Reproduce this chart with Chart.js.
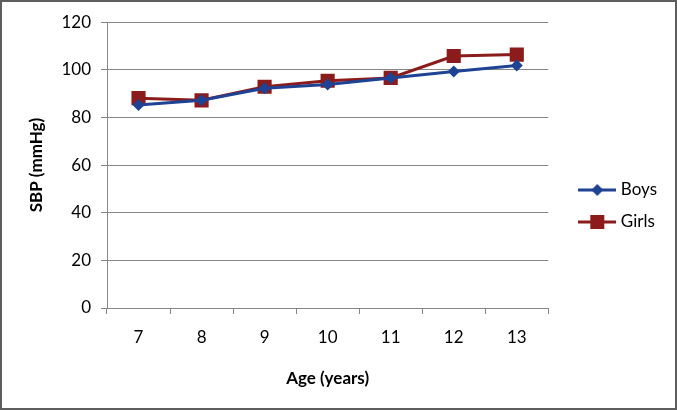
<!DOCTYPE html>
<html>
<head>
<meta charset="utf-8">
<script src="https://cdn.jsdelivr.net/npm/chart.js@4/dist/chart.umd.min.js"></script>
<style>
  html, body { margin: 0; padding: 0; background: #fff; }
  #wrap { width: 677px; height: 410px; box-sizing: border-box; border: 2px solid #5e5e5e; position: relative; }
</style>
</head>
<body>
<div id="wrap"><canvas id="chart"></canvas></div>
<script>
const ages = ['7', '8', '9', '10', '11', '12', '13'];
const boys = [85.2, 87.2, 92.3, 93.8, 96.6, 99.3, 101.8];
const girls = [88.1, 87.2, 92.9, 95.4, 96.6, 105.8, 106.4];
const yTicks = [0, 20, 40, 60, 80, 100, 120];

const BLUE = '#1f4394';
const RED = '#8c1b1b';
const FONT = 'Lato, "Open Sans", sans-serif';

// legend icon: line with the marker on top
function legendIcon(color, marker) {
  const c = document.createElement('canvas');
  c.width = 38; c.height = 16;
  const g = c.getContext('2d');
  g.strokeStyle = color;
  g.lineWidth = 3;
  g.beginPath(); g.moveTo(0, 8); g.lineTo(38, 8); g.stroke();
  g.fillStyle = color;
  if (marker === 'diamond') {
    g.beginPath(); g.moveTo(19, 2); g.lineTo(25, 8); g.lineTo(19, 14); g.lineTo(13, 8); g.closePath(); g.fill();
  } else {
    g.fillRect(12, 1, 14, 14);
  }
  return c;
}

// move the legend block a little, where the original sits
const legendNudge = {
  id: 'legendNudge',
  afterLayout(ch) {
    const lg = ch.legend;
    lg.left += 19; lg.right += 19;
    lg.top -= 9; lg.bottom -= 9;
  }
};

const chart = new Chart(document.getElementById('chart'), {
  type: 'line',
  data: {
    labels: ages,
    datasets: [
      {
        label: 'Boys',
        data: boys,
        borderColor: BLUE,
        backgroundColor: BLUE,
        borderWidth: 3,
        pointStyle: 'rectRot',
        pointRadius: 6,
        pointBackgroundColor: BLUE,
        pointBorderWidth: 0,
        tension: 0
      },
      {
        label: 'Girls',
        data: girls,
        borderColor: RED,
        backgroundColor: RED,
        borderWidth: 3,
        pointStyle: 'rect',
        pointRadius: 10,
        pointBackgroundColor: RED,
        pointBorderWidth: 0,
        tension: 0
      }
    ]
  },
  plugins: [legendNudge],
  options: {
    responsive: true,
    maintainAspectRatio: false,
    animation: false,
    layout: { padding: { top: 20, right: 27, left: 0, bottom: 0 } },
    plugins: {
      tooltip: { enabled: false },
      legend: {
        position: 'right',
        labels: {
          font: { family: FONT, size: 17 },
          color: '#000',
          usePointStyle: true,
          pointStyleWidth: 30,
          padding: 15,
          generateLabels: (ch) => ch.data.datasets.map((ds, i) => ({
            text: ds.label,
            datasetIndex: i,
            pointStyle: legendIcon(ds.borderColor, i === 0 ? 'diamond' : 'square'),
            fontColor: '#000',
            lineWidth: 0
          }))
        }
      }
    },
    scales: {
      x: {
        offset: true,
        grid: { offset: true, drawOnChartArea: false, drawTicks: true, tickLength: 6, color: '#868686' },
        border: { color: '#868686', width: 1 },
        ticks: { color: '#000', font: { family: FONT, size: 17 }, padding: 13 },
        title: { display: true, text: 'Age (years)', color: '#000', font: { family: FONT, size: 17, weight: 'bold' }, padding: { top: 0, bottom: 19 } },
        afterFit: (s) => { s.height = 100; }
      },
      y: {
        min: 0,
        max: 120,
        afterBuildTicks: (s) => { s.ticks = yTicks.map(v => ({ value: v })); },
        grid: { color: '#868686', tickLength: 6 },
        border: { color: '#868686', width: 1 },
        ticks: { color: '#000', font: { family: FONT, size: 17 }, padding: 10 },
        title: { display: true, text: 'SBP (mmHg)', color: '#000', font: { family: FONT, size: 17, weight: 'bold' }, padding: { top: 24, bottom: 0 } },
        afterFit: (s) => { s.width = 105; }
      }
    }
  }
});
</script>
</body>
</html>
